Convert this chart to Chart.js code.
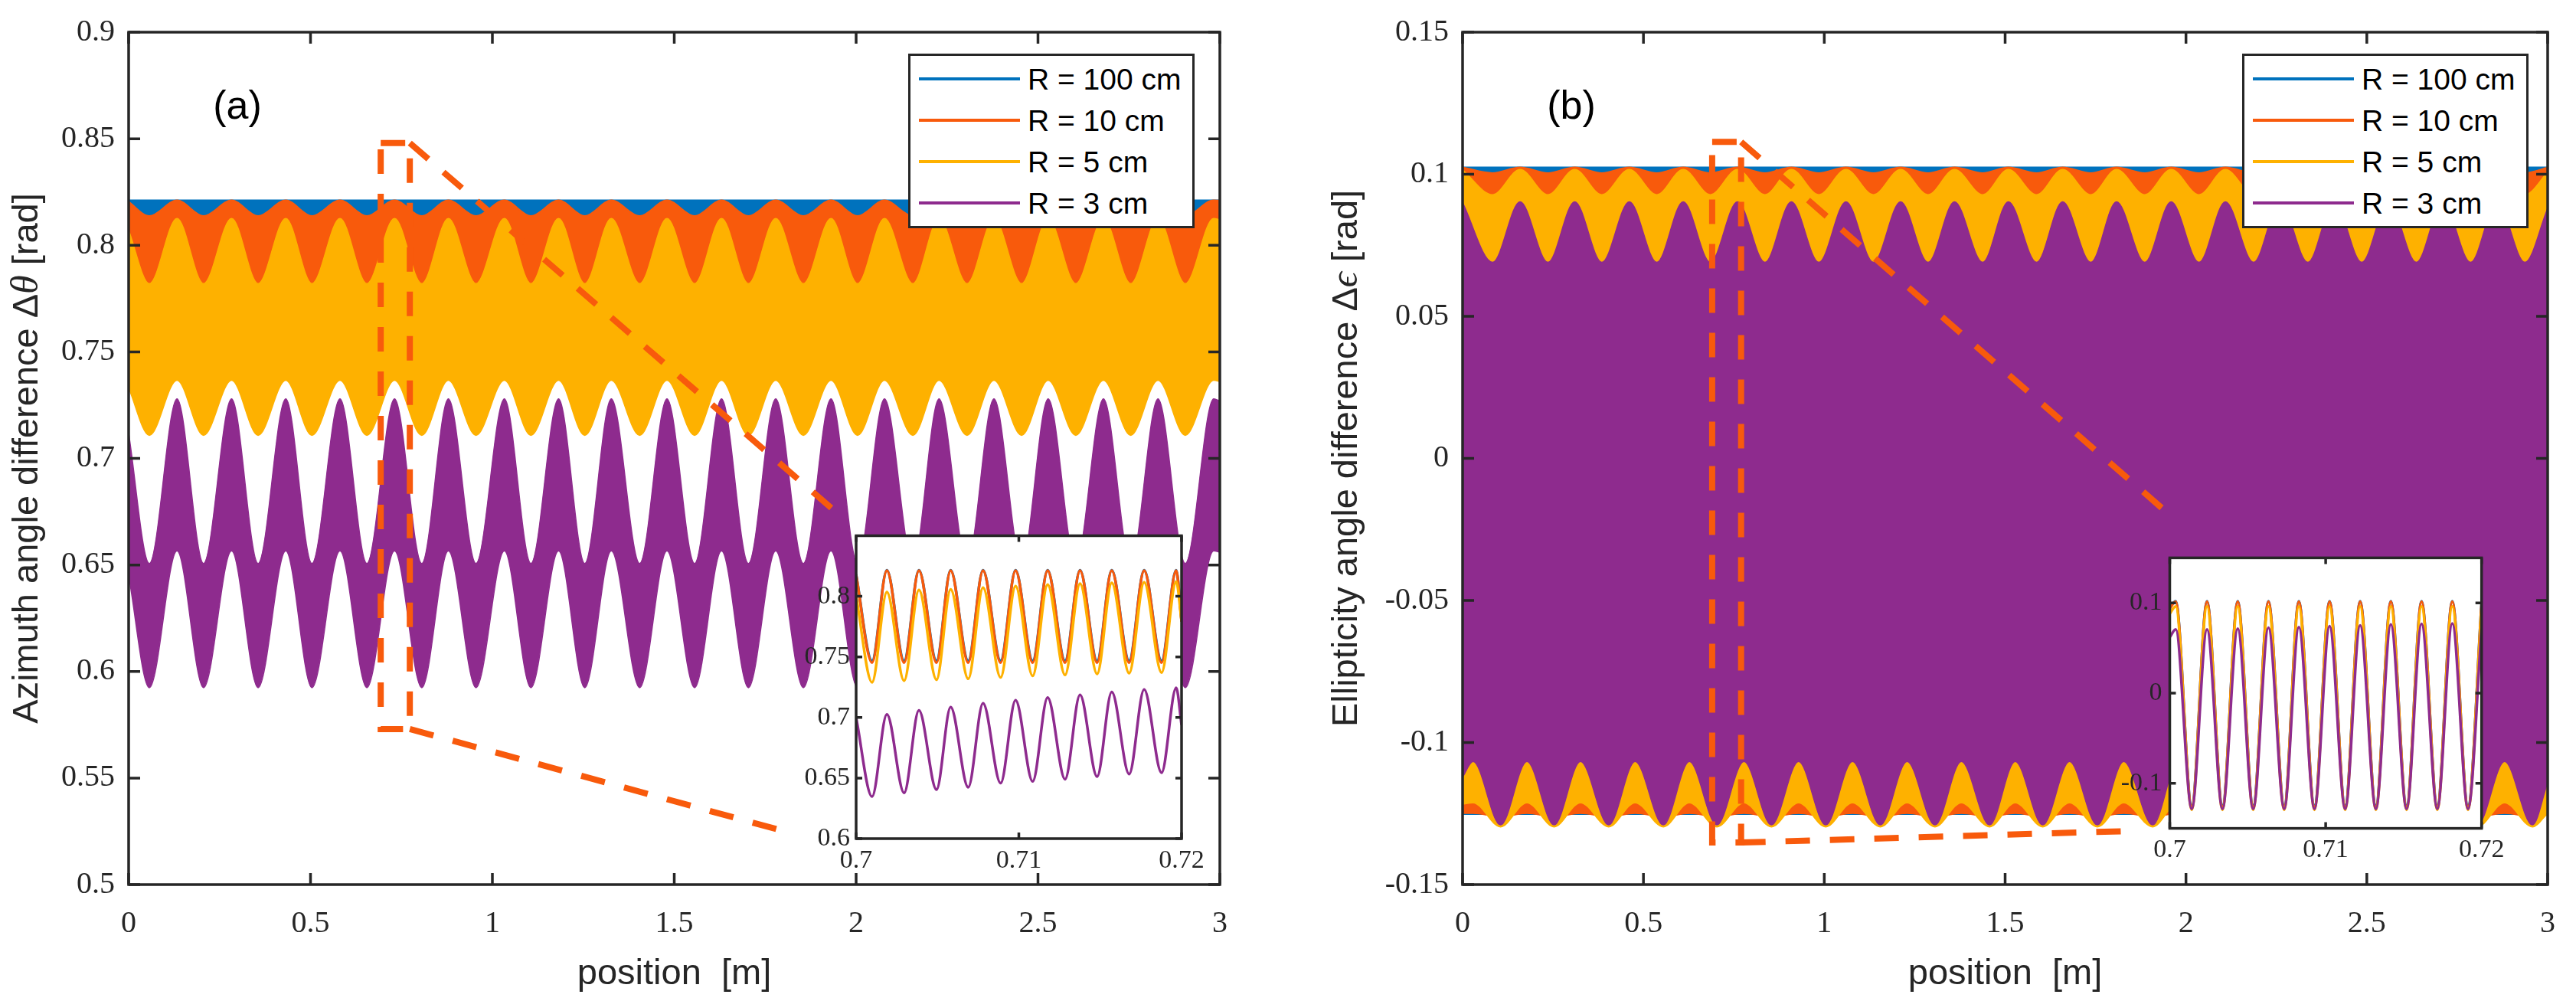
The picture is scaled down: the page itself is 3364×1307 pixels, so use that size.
<!DOCTYPE html>
<html>
<head>
<meta charset="utf-8">
<title>Azimuth and ellipticity angle difference</title>
<script src="https://cdn.jsdelivr.net/npm/chart.js@4.4.1/dist/chart.umd.min.js"></script>
<style>
  html, body { margin: 0; padding: 0; background: #fff; }
  #page { position: relative; width: 3364px; height: 1307px; overflow: hidden; background: #fff; }
  canvas { position: absolute; }
  .legend { position: absolute; box-sizing: border-box; border: 3px solid #262626; background: #fff;
            font-family: 'Liberation Sans', Arial, sans-serif; font-size: 39px; color: #000; }
  .legend .swatch { position: absolute; height: 4px; }
  .legend .txt { position: absolute; line-height: 1; transform: translateY(-50%); white-space: pre; }
  .tag { position: absolute; font-family: 'Liberation Sans', Arial, sans-serif; font-size: 52px; color: #000;
         line-height: 1; transform: translate(-50%, -50%); }
</style>
</head>
<body>
<div id="page">
  <canvas id="mainA" width="1650" height="1307" style="left:0;top:0;width:1650px;height:1307px"></canvas>
  <canvas id="mainB" width="1714" height="1307" style="left:1650px;top:0;width:1714px;height:1307px"></canvas>
  <canvas id="insetA" width="600" height="500" style="left:1000px;top:650px;width:600px;height:500px"></canvas>
  <canvas id="insetB" width="600" height="500" style="left:2700px;top:650px;width:600px;height:500px"></canvas>
  <div class="tag" style="left:310px;top:137px">(a)</div>
  <div class="tag" style="left:2052px;top:137px">(b)</div>
</div>
<script>
// ---- series ----
const seriesLabels = ['R = 100 cm', 'R = 10 cm', 'R = 5 cm', 'R = 3 cm'];
const seriesColors = ['#0072BD', '#F85A0C', '#FEB100', '#8E2B8E'];

// ---- tick labels ----
const xTicksMain = [0, 0.5, 1, 1.5, 2, 2.5, 3];
const yTicksA = [0.5, 0.55, 0.6, 0.65, 0.7, 0.75, 0.8, 0.85, 0.9];
const yTicksB = [-0.15, -0.1, -0.05, 0, 0.05, 0.1, 0.15];
const xTicksInset = [0.7, 0.71, 0.72];
const yTicksInsetA = [0.6, 0.65, 0.7, 0.75, 0.8];
const yTicksInsetB = [-0.1, 0, 0.1];

// ---- panel (a): envelopes of the fast oscillation (position in m) ----
const xFlat = [0, 3];
const xEnvA = [0, 0.057, 0.133, 0.206, 0.283, 0.356, 0.432, 0.504, 0.581, 0.655, 0.731, 0.806, 0.879, 0.955,
  1.033, 1.106, 1.182, 1.254, 1.327, 1.405, 1.480, 1.556, 1.630, 1.704, 1.779, 1.855, 1.931, 2.004, 2.078,
  2.156, 2.228, 2.305, 2.379, 2.455, 2.528, 2.604, 2.680, 2.755, 2.830, 2.905, 2.983, 3.0];
const blueTopA = [0.8212, 0.8212];
const blueBotA = [0.745, 0.745];
const orangeTopA = [0.8205, 0.8138, 0.8212, 0.8138, 0.8212, 0.8138, 0.8212, 0.8138, 0.8212, 0.8138, 0.8212,
  0.8138, 0.8212, 0.8138, 0.8212, 0.8138, 0.8212, 0.8138, 0.8212, 0.8138, 0.8212, 0.8138, 0.8212, 0.8138,
  0.8212, 0.8138, 0.8212, 0.8138, 0.8212, 0.8138, 0.8212, 0.8138, 0.8212, 0.8138, 0.8212, 0.8138, 0.8212,
  0.8138, 0.8212, 0.8138, 0.8212, 0.8211];
const orangeBotA = [0.745, 0.745];
const yellowTopA = [0.807, 0.782, 0.8126, 0.782, 0.8126, 0.782, 0.8126, 0.782, 0.8126, 0.782, 0.8126,
  0.782, 0.8126, 0.782, 0.8126, 0.782, 0.8126, 0.782, 0.8126, 0.782, 0.8126, 0.782, 0.8126, 0.782,
  0.8126, 0.782, 0.8126, 0.782, 0.8126, 0.782, 0.8126, 0.782, 0.8126, 0.782, 0.8126, 0.782, 0.8126,
  0.782, 0.8126, 0.782, 0.8126, 0.812];
const yellowBotA = [0.733, 0.7108, 0.7367, 0.7108, 0.7367, 0.7108, 0.7367, 0.7108, 0.7367, 0.7108, 0.7367,
  0.7108, 0.7367, 0.7108, 0.7367, 0.7108, 0.7367, 0.7108, 0.7367, 0.7108, 0.7367, 0.7108, 0.7367, 0.7108,
  0.7367, 0.7108, 0.7367, 0.7108, 0.7367, 0.7108, 0.7367, 0.7108, 0.7367, 0.7108, 0.7367, 0.7108, 0.7367,
  0.7108, 0.7367, 0.7108, 0.7367, 0.736];
const purpleTopA = [0.7116, 0.6507, 0.7279, 0.6507, 0.7279, 0.6507, 0.7279, 0.6507, 0.7279, 0.6507, 0.7279,
  0.6507, 0.7279, 0.6507, 0.7279, 0.6507, 0.7279, 0.6507, 0.7279, 0.6507, 0.7279, 0.6507, 0.7279, 0.6507,
  0.7279, 0.6507, 0.7279, 0.6507, 0.7279, 0.6507, 0.7279, 0.6507, 0.7279, 0.6507, 0.7279, 0.6507, 0.7279,
  0.6507, 0.7279, 0.6507, 0.7279, 0.727];
const purpleBotA = [0.645, 0.5924, 0.6566, 0.5924, 0.6566, 0.5924, 0.6566, 0.5924, 0.6566, 0.5924, 0.6566,
  0.5924, 0.6566, 0.5924, 0.6566, 0.5924, 0.6566, 0.5924, 0.6566, 0.5924, 0.6566, 0.5924, 0.6566, 0.5924,
  0.6566, 0.5924, 0.6566, 0.5924, 0.6566, 0.5924, 0.6566, 0.5924, 0.6566, 0.5924, 0.6566, 0.5924, 0.6566,
  0.5924, 0.6566, 0.5924, 0.6566, 0.656];

// ---- panel (b): envelopes ----
const xTopB = [0, 0.083, 0.159, 0.236, 0.310, 0.385, 0.461, 0.537, 0.610, 0.685, 0.760, 0.836, 0.909, 0.985,
  1.060, 1.136, 1.211, 1.287, 1.360, 1.438, 1.509, 1.587, 1.659, 1.737, 1.808, 1.886, 1.959, 2.036, 2.109,
  2.187, 2.260, 2.337, 2.410, 2.486, 2.560, 2.637, 2.710, 2.787, 2.860, 2.937, 3.0];
const xBotB = [0, 0.029, 0.105, 0.178, 0.253, 0.326, 0.404, 0.477, 0.555, 0.627, 0.703, 0.778, 0.854, 0.929,
  1.004, 1.078, 1.155, 1.229, 1.306, 1.379, 1.457, 1.528, 1.604, 1.678, 1.755, 1.828, 1.908, 1.978, 2.055,
  2.128, 2.206, 2.279, 2.356, 2.429, 2.505, 2.579, 2.656, 2.729, 2.806, 2.881, 2.958, 3.0];
const blueTopB = [0.1025, 0.1025];
const blueBotB = [-0.1253, -0.1253];
const orangeTopB = [0.1025, 0.1005, 0.1025, 0.1005, 0.1025, 0.1005, 0.1025, 0.1005, 0.1025, 0.1005, 0.1025,
  0.1005, 0.1025, 0.1005, 0.1025, 0.1005, 0.1025, 0.1005, 0.1025, 0.1005, 0.1025, 0.1005, 0.1025, 0.1005,
  0.1025, 0.1005, 0.1025, 0.1005, 0.1025, 0.1005, 0.1025, 0.1005, 0.1025, 0.1005, 0.1025, 0.1005, 0.1025,
  0.1005, 0.1025, 0.1005, 0.1024];
const orangeBotB = [-0.1249, -0.1249, -0.1262, -0.1249, -0.1262, -0.1249, -0.1262, -0.1249, -0.1262, -0.1249,
  -0.1262, -0.1249, -0.1262, -0.1249, -0.1262, -0.1249, -0.1262, -0.1249, -0.1262, -0.1249, -0.1262, -0.1249,
  -0.1262, -0.1249, -0.1262, -0.1249, -0.1262, -0.1249, -0.1262, -0.1249, -0.1262, -0.1249, -0.1262, -0.1249,
  -0.1262, -0.1249, -0.1262, -0.1249, -0.1262, -0.1249, -0.1262, -0.1255];
const yellowTopB = [0.1015, 0.0928, 0.1017, 0.0928, 0.1017, 0.0928, 0.1017, 0.0928, 0.1017, 0.0928, 0.1017,
  0.0928, 0.1017, 0.0928, 0.1017, 0.0928, 0.1017, 0.0928, 0.1017, 0.0928, 0.1017, 0.0928, 0.1017, 0.0928,
  0.1017, 0.0928, 0.1017, 0.0928, 0.1017, 0.0928, 0.1017, 0.0928, 0.1017, 0.0928, 0.1017, 0.0928, 0.1017,
  0.0928, 0.1017, 0.0928, 0.1007];
const yellowBotB = [-0.1217, -0.1212, -0.1297, -0.1212, -0.1297, -0.1212, -0.1297, -0.1212, -0.1297, -0.1212,
  -0.1297, -0.1212, -0.1297, -0.1212, -0.1297, -0.1212, -0.1297, -0.1212, -0.1297, -0.1212, -0.1297, -0.1212,
  -0.1297, -0.1212, -0.1297, -0.1212, -0.1297, -0.1212, -0.1297, -0.1212, -0.1297, -0.1212, -0.1297, -0.1212,
  -0.1297, -0.1212, -0.1297, -0.1212, -0.1297, -0.1212, -0.1297, -0.125];
const purpleTopB = [0.0900, 0.0690, 0.0903, 0.0690, 0.0903, 0.0690, 0.0903, 0.0690, 0.0903, 0.0690, 0.0903,
  0.0690, 0.0903, 0.0690, 0.0903, 0.0690, 0.0903, 0.0690, 0.0903, 0.0690, 0.0903, 0.0690, 0.0903, 0.0690,
  0.0903, 0.0690, 0.0903, 0.0690, 0.0903, 0.0690, 0.0903, 0.0690, 0.0903, 0.0690, 0.0903, 0.0690, 0.0903,
  0.0690, 0.0903, 0.0690, 0.0880];
const purpleBotB = [-0.1122, -0.1067, -0.1290, -0.1067, -0.1290, -0.1067, -0.1290, -0.1067, -0.1290, -0.1067,
  -0.1290, -0.1067, -0.1290, -0.1067, -0.1290, -0.1067, -0.1290, -0.1067, -0.1290, -0.1067, -0.1290, -0.1067,
  -0.1290, -0.1067, -0.1290, -0.1067, -0.1290, -0.1067, -0.1290, -0.1067, -0.1290, -0.1067, -0.1290, -0.1067,
  -0.1290, -0.1067, -0.1290, -0.1067, -0.1290, -0.1067, -0.1290, -0.1140];

// ---- zoom markers (data coordinates of the dashed box and connectors) ----
const boxAx = [0.693, 0.773, 0.773, 0.693, 0.693];
const boxAy = [0.848, 0.848, 0.573, 0.573, 0.848];
const linkUpAx = [0.773, 1.957], linkUpAy = [0.848, 0.673];
const linkLoAx = [0.773, 1.829], linkLoAy = [0.573, 0.5238];
const boxBx = [0.690, 0.770, 0.770, 0.690, 0.690];
const boxBy = [0.1114, 0.1114, -0.1352, -0.1352, 0.1114];
const linkUpBx = [0.770, 1.956], linkUpBy = [0.1114, -0.020];
const linkLoBx = [0.770, 1.830], linkLoBy = [-0.1352, -0.1312];

// ---- insets: 0.70 .. 0.72 m ----
const xInsetA = [0.7, 0.70098, 0.70189, 0.70295, 0.70386, 0.70494, 0.70581, 0.70689, 0.70780, 0.70888, 0.70980,
  0.71085, 0.71177, 0.71284, 0.71376, 0.71481, 0.71571, 0.71678, 0.71770, 0.71877, 0.71967, 0.72];
const blueInsetA = [0.818, 0.7467, 0.8215, 0.7467, 0.8215, 0.7467, 0.8215, 0.7467, 0.8215, 0.7467, 0.8215,
  0.7467, 0.8215, 0.7467, 0.8215, 0.7467, 0.8215, 0.7467, 0.8215, 0.7467, 0.8215, 0.780];
const orangeInsetA = [0.8175, 0.7453, 0.8212, 0.7453, 0.8212, 0.7453, 0.8212, 0.7453, 0.8212, 0.7453, 0.8212,
  0.7453, 0.8212, 0.7453, 0.8212, 0.7453, 0.8212, 0.7453, 0.8212, 0.7453, 0.8212, 0.779];
const yellowInsetA = [0.8004, 0.7290, 0.8036, 0.7303, 0.8052, 0.7311, 0.8057, 0.7319, 0.8071, 0.7330, 0.8084,
  0.7343, 0.8097, 0.7351, 0.8105, 0.7359, 0.8111, 0.7365, 0.8116, 0.7370, 0.8122, 0.780];
const purpleInsetA = [0.700, 0.6347, 0.7026, 0.6378, 0.7058, 0.6405, 0.7085, 0.6424, 0.7117, 0.6458, 0.7143,
  0.6472, 0.7165, 0.6490, 0.7186, 0.6512, 0.7210, 0.6533, 0.7231, 0.6544, 0.7245, 0.6938];

const xInsetB = [0.7, 0.70038, 0.70141, 0.70239, 0.70338, 0.70436, 0.70535, 0.70633, 0.70734, 0.70828, 0.70928,
  0.71025, 0.71125, 0.71221, 0.71322, 0.71418, 0.71519, 0.71615, 0.71716, 0.71812, 0.71913, 0.72];
const blueInsetB = [0.095, 0.102, -0.1245, 0.102, -0.1245, 0.102, -0.1245, 0.102, -0.1245, 0.102, -0.1245,
  0.102, -0.1245, 0.102, -0.1245, 0.102, -0.1245, 0.102, -0.1245, 0.102, -0.1245, 0.100];
const orangeInsetB = [0.094, 0.1015, -0.126, 0.1015, -0.126, 0.1015, -0.126, 0.1015, -0.126, 0.1015, -0.126,
  0.1015, -0.126, 0.1015, -0.126, 0.1015, -0.126, 0.1015, -0.126, 0.1015, -0.126, 0.099];
const yellowInsetB = [0.088, 0.0962, -0.1295, 0.0962, -0.1295, 0.0962, -0.1295, 0.0962, -0.1295, 0.0962, -0.1295,
  0.0962, -0.1295, 0.0962, -0.1295, 0.0962, -0.1295, 0.0962, -0.1295, 0.0962, -0.1295, 0.094];
const purpleInsetB = [0.062, 0.0708, -0.1285, 0.0708, -0.1285, 0.0715, -0.1285, 0.0726, -0.1285, 0.0733, -0.1285,
  0.0744, -0.1285, 0.0751, -0.1285, 0.0762, -0.1285, 0.0769, -0.1285, 0.0772, -0.1285, 0.072];

// ---- styling ----
const INK = '#262626';
const SERIF = "'Liberation Serif', 'DejaVu Serif', serif";
const SANS = "'Liberation Sans', Arial, sans-serif";
Chart.defaults.color = INK;

function xy(xs, ys) {
  return xs.map((x, i) => ({ x: x, y: ys[i] }));
}

function fmt(v) {
  return String(+Number(v).toFixed(3));
}

// filled band between an upper and lower envelope
function band(xsTop, top, xsBot, bot, color, order) {
  return [
    { data: xy(xsTop, top), borderColor: color, backgroundColor: color, borderWidth: 1.5, fill: '+1', order: order },
    { data: xy(xsBot, bot), borderColor: color, backgroundColor: color, borderWidth: 1.5, fill: false, order: order }
  ];
}

function dashed(xs, ys) {
  return {
    data: xy(xs, ys), borderColor: seriesColors[1], borderWidth: 8, borderDash: [32, 26],
    borderCapStyle: 'butt', fill: false, tension: 0, cubicInterpolationMode: 'default', order: 0
  };
}

function trace(xs, ys, color, order) {
  return { data: xy(xs, ys), borderColor: color, borderWidth: 3.5, fill: false, order: order };
}

// box around plot area with inward ticks on all four sides
const boxPlugin = {
  id: 'box',
  beforeDraw(chart, args, opts) {
    if (!opts.fillArea) return;
    const a = chart.chartArea;
    chart.ctx.save();
    chart.ctx.fillStyle = '#fff';
    chart.ctx.fillRect(a.left, a.top, a.right - a.left, a.bottom - a.top);
    chart.ctx.restore();
  },
  afterDraw(chart, args, opts) {
    const ctx = chart.ctx, a = chart.chartArea, sx = chart.scales.x, sy = chart.scales.y;
    const L = opts.tickLen;
    ctx.save();
    ctx.strokeStyle = INK;
    ctx.lineWidth = opts.lineWidth;
    ctx.beginPath();
    sx.ticks.forEach(t => {
      const px = sx.getPixelForValue(t.value);
      ctx.moveTo(px, a.bottom); ctx.lineTo(px, a.bottom - L);
      ctx.moveTo(px, a.top); ctx.lineTo(px, a.top + L);
    });
    sy.ticks.forEach(t => {
      const py = sy.getPixelForValue(t.value);
      ctx.moveTo(a.left, py); ctx.lineTo(a.left + L, py);
      ctx.moveTo(a.right, py); ctx.lineTo(a.right - L, py);
    });
    ctx.stroke();
    ctx.strokeRect(a.left, a.top, a.right - a.left, a.bottom - a.top);

    // y label with an italic math symbol
    if (opts.yLabel) {
      const parts = opts.yLabel;
      const fonts = { sans: '47px ' + SANS, math: 'italic 50px ' + SERIF };
      let total = 0;
      parts.forEach(p => { ctx.font = fonts[p[1]]; total += ctx.measureText(p[0]).width; });
      ctx.translate(opts.yLabelX, (a.top + a.bottom) / 2);
      ctx.rotate(-Math.PI / 2);
      ctx.fillStyle = INK;
      ctx.textBaseline = 'middle';
      ctx.textAlign = 'left';
      let x = -total / 2;
      parts.forEach(p => {
        ctx.font = fonts[p[1]];
        ctx.fillText(p[0], x, 0);
        x += ctx.measureText(p[0]).width;
      });
    }
    ctx.restore();
  }
};

function makeChart(id, datasets, s) {
  return new Chart(document.getElementById(id), {
    type: 'line',
    data: { datasets: datasets },
    options: {
      responsive: false,
      animation: false,
      devicePixelRatio: 1,
      layout: { padding: s.pad },
      elements: { point: { radius: 0 }, line: { cubicInterpolationMode: 'monotone' } },
      plugins: {
        legend: { display: false },
        tooltip: { enabled: false },
        box: { tickLen: s.tickLen, lineWidth: s.boxWidth, fillArea: s.fillArea,
               yLabel: s.yLabel, yLabelX: s.yLabelX }
      },
      scales: {
        x: {
          type: 'linear', min: s.xMin, max: s.xMax,
          afterBuildTicks: sc => { sc.ticks = s.xTicks.map(v => ({ value: v })); },
          afterFit: sc => { sc.height = s.xHeight; },
          grid: { display: false, drawTicks: false },
          border: { display: false },
          ticks: { font: { family: SERIF, size: s.tickSize }, color: INK, padding: s.xPad,
                   maxRotation: 0, autoSkip: false, callback: v => fmt(v) },
          title: s.xTitle ? { display: true, text: s.xTitle, color: INK,
                   font: { family: SANS, size: 47 }, padding: { top: 0, bottom: 7 } } : { display: false }
        },
        y: {
          type: 'linear', min: s.yMin, max: s.yMax,
          afterBuildTicks: sc => { sc.ticks = s.yTicks.map(v => ({ value: v })); },
          afterFit: sc => { sc.width = s.yWidth; },
          grid: { display: false, drawTicks: false },
          border: { display: false },
          ticks: { font: { family: SERIF, size: s.tickSize }, color: INK, padding: s.yPad,
                   autoSkip: false, callback: v => fmt(v) },
          title: { display: false }
        }
      }
    },
    plugins: [boxPlugin]
  });
}

const C = seriesColors;

// panel (a)
makeChart('mainA', [].concat(
  [dashed(boxAx, boxAy), dashed(linkUpAx, linkUpAy), dashed(linkLoAx, linkLoAy)],
  band(xEnvA, purpleTopA, xEnvA, purpleBotA, C[3], 1),
  band(xEnvA, yellowTopA, xEnvA, yellowBotA, C[2], 2),
  band(xEnvA, orangeTopA, xFlat, orangeBotA, C[1], 3),
  band(xFlat, blueTopA, xFlat, blueBotA, C[0], 4)
), {
  pad: { top: 36, right: 57, left: 0, bottom: 0 },
  xMin: 0, xMax: 3, yMin: 0.5, yMax: 0.9, xTicks: xTicksMain, yTicks: yTicksA,
  xHeight: 152, yWidth: 168, tickSize: 40, xPad: 27, yPad: 18,
  xTitle: 'position  [m]',
  yLabel: [['Azimuth angle difference ', 'sans'], ['Δ', 'sans'], ['θ', 'math'], [' [rad]', 'sans']],
  yLabelX: 36,
  tickLen: 15, boxWidth: 3.5, fillArea: false
});

// panel (b)
makeChart('mainB', [].concat(
  [dashed(boxBx, boxBy), dashed(linkUpBx, linkUpBy), dashed(linkLoBx, linkLoBy)],
  band(xTopB, purpleTopB, xBotB, purpleBotB, C[3], 1),
  band(xTopB, yellowTopB, xBotB, yellowBotB, C[2], 2),
  band(xTopB, orangeTopB, xBotB, orangeBotB, C[1], 3),
  band(xFlat, blueTopB, xFlat, blueBotB, C[0], 4)
), {
  pad: { top: 36, right: 29, left: 0, bottom: 0 },
  xMin: 0, xMax: 3, yMin: -0.15, yMax: 0.15, xTicks: xTicksMain, yTicks: yTicksB,
  xHeight: 152, yWidth: 260, tickSize: 40, xPad: 27, yPad: 18,
  xTitle: 'position  [m]',
  yLabel: [['Ellipticity angle difference ', 'sans'], ['Δ', 'sans'], ['ϵ', 'math'], [' [rad]', 'sans']],
  yLabelX: 109,
  tickLen: 15, boxWidth: 3.5, fillArea: false
});

// inset (a)
makeChart('insetA', [
  trace(xInsetA, blueInsetA, C[0], 4),
  trace(xInsetA, orangeInsetA, C[1], 3),
  trace(xInsetA, yellowInsetA, C[2], 2),
  trace(xInsetA, purpleInsetA, C[3], 1)
], {
  pad: { top: 49.5, right: 57, left: 0, bottom: 0 },
  xMin: 0.7, xMax: 0.72, yMin: 0.6, yMax: 0.85, xTicks: xTicksInset, yTicks: yTicksInsetA,
  xHeight: 55, yWidth: 118, tickSize: 34, xPad: 9, yPad: 8,
  tickLen: 8, boxWidth: 3.5, fillArea: true
});

// inset (b)
makeChart('insetB', [
  trace(xInsetB, blueInsetB, C[0], 4),
  trace(xInsetB, orangeInsetB, C[1], 3),
  trace(xInsetB, yellowInsetB, C[2], 2),
  trace(xInsetB, purpleInsetB, C[3], 1)
], {
  pad: { top: 78.4, right: 59.3, left: 0, bottom: 0 },
  xMin: 0.7, xMax: 0.72, yMin: -0.15, yMax: 0.15, xTicks: xTicksInset, yTicks: yTicksInsetB,
  xHeight: 68.4, yWidth: 133.5, tickSize: 34, xPad: 8, yPad: 10,
  tickLen: 8, boxWidth: 3.5, fillArea: true
});

// legends (HTML boxes placed over each panel)
function addLegend(left, top) {
  const box = document.createElement('div');
  box.className = 'legend';
  box.style.cssText = 'left:' + left + 'px;top:' + top + 'px;width:374px;height:228px;';
  seriesLabels.forEach((lab, i) => {
    const cy = 30 + i * 54;
    const sw = document.createElement('div');
    sw.className = 'swatch';
    sw.style.cssText = 'left:11px;width:132px;top:' + (cy - 2) + 'px;background:' + seriesColors[i] + ';';
    const tx = document.createElement('div');
    tx.className = 'txt';
    tx.style.cssText = 'left:153px;top:' + cy + 'px;';
    tx.textContent = lab;
    box.appendChild(sw);
    box.appendChild(tx);
  });
  document.getElementById('page').appendChild(box);
}
addLegend(1186, 70);
addLegend(2928, 70);
</script>
</body>
</html>
